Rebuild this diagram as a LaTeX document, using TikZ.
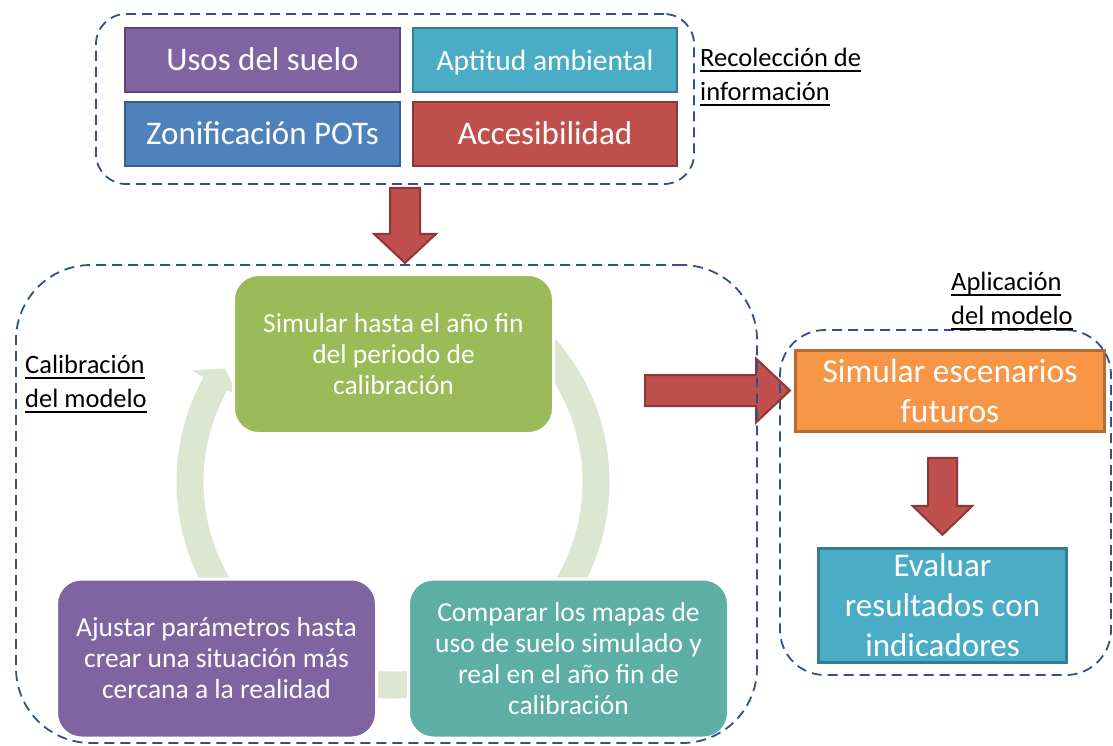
\documentclass[tikz,border=0pt]{standalone}
\usepackage{fontspec}
\setmainfont{Carlito}
\usetikzlibrary{calc,backgrounds}

\newsavebox{\undrbox}
\newcommand{\undr}[1]{\sbox{\undrbox}{#1}\rlap{\usebox{\undrbox}}\rule[-5pt]{\wd\undrbox}{1.8pt}}

\definecolor{usospurple}{HTML}{8064A2}
\definecolor{usosborder}{HTML}{5C4776}
\definecolor{aptblue}{HTML}{4BACC6}
\definecolor{aptborder}{HTML}{357D91}
\definecolor{zonblue}{HTML}{4F81BD}
\definecolor{zonborder}{HTML}{385D8A}
\definecolor{accred}{HTML}{C0504D}
\definecolor{accborder}{HTML}{8C3836}
\definecolor{simgreen}{HTML}{9BBB59}
\definecolor{compteal}{RGB}{93,174,165}
\definecolor{escorange}{HTML}{F79646}
\definecolor{escborder}{HTML}{B66D31}
\definecolor{ringgreen}{RGB}{221,230,209}
\definecolor{frameblue}{RGB}{47,82,143}

\begin{document}
\begin{tikzpicture}[x=1pt,y=-1pt,
    tile/.style={draw, line width=2.5pt, text=white, minimum width=264pt, minimum height=64pt,
      text height=21pt, text depth=0pt, font=\fontsize{33}{36}\selectfont},
    cyc/.style={draw=white, line width=3pt, rounded corners=25pt, text=white, align=center,
      minimum width=320pt, minimum height=159pt, font=\fontsize{27.5}{31}\selectfont},
    stepbox/.style={draw, line width=2.5pt, text=white, align=center,
      font=\fontsize{33.5}{39.5}\selectfont},
    dashframe/.style={draw=frameblue, line width=1.8pt, dash pattern=on 10pt off 6pt, rounded corners=#1},
    labeltxt/.style={anchor=west, inner sep=0pt, align=left, font=\fontsize{26.5}{34}\selectfont},
    blockarrow/.style={fill=accred, draw=accborder, line width=2pt, line join=miter},
    ring/.style={draw=ringgreen, line width=27pt}]
  \useasboundingbox (0,0) rectangle (1113,745);

  \node[tile, fill=usospurple, draw=usosborder, minimum width=275pt] (usos) at (262.5,60) {Usos del suelo};
  \node[tile, fill=aptblue, draw=aptborder, font=\fontsize{29.5}{33}\selectfont] (apt) at (545,60) {Aptitud ambiental};
  \node[tile, fill=zonblue, draw=zonborder, minimum width=275pt] (zon) at (262.5,134) {Zonificación POTs};
  \node[tile, fill=accred, draw=accborder] (acc) at (545,134) {Accesibilidad};

  \coordinate (hub) at (393,482);
  \draw[ring] ([shift={(50:203pt)}]hub) arc[start angle=50, end angle=-62, radius=203pt];
  \draw[ring] ([shift={(-72:203pt)}]hub) arc[start angle=-72, end angle=-108, radius=203pt];
  \draw[ring] ([shift={(220:203pt)}]hub) arc[start angle=220, end angle=151, radius=203pt];
  \fill[ringgreen] ([shift={(151:230pt)}]hub) -- ([shift={(146:203pt)}]hub) -- ([shift={(151:176pt)}]hub) -- cycle;

  \node[cyc, fill=simgreen] (sim) at (393.5,354) {Simular hasta el año fin\\del periodo de\\calibración};
  \node[cyc, fill=usospurple] (adj) at (216.5,658.5) {Ajustar parámetros hasta\\crear una situación más\\cercana a la realidad};
  \node[cyc, fill=compteal] (comp) at (568.5,658.5) {Comparar los mapas de\\uso de suelo simulado y\\real en el año fin de\\calibración};

  \node[stepbox, fill=escorange, draw=escborder, minimum width=309pt, minimum height=81pt] (esc) at (950,391) {Simular escenarios\\futuros};
  \node[stepbox, fill=aptblue, draw=aptborder, minimum width=248pt, minimum height=114pt,
    font=\fontsize{33}{40}\selectfont] (eval) at (942.5,605.5) {Evaluar\\resultados con\\indicadores};

  \node[dashframe=30pt, minimum width=598pt, minimum height=170pt] (recolframe) at (395,99) {};
  \node[dashframe=75pt, minimum width=741pt, minimum height=478pt] (calibframe) at (386.5,504) {};
  \node[dashframe=45pt, minimum width=331pt, minimum height=345pt] (aplicframe) at (945.5,502.5) {};

  \node[labeltxt] (recol) at (700,77) {\undr{Recolección de}\\\undr{información}};
  \node[labeltxt] (calib) at (25,384) {\undr{Calibración}\\\undr{del modelo}};
  \node[labeltxt] (aplic) at (951,301) {\undr{Aplicación}\\\undr{del modelo}};

  \begin{pgfonlayer}{background}
    \draw[blockarrow, shift={($(recolframe.south)+(10,3)$)}]
      (-15,0) -- (15,0) -- (15,46) -- (31,46) -- (0,75) -- (-31,46) -- (-15,46) -- cycle;
    \draw[blockarrow, shift={($(sim.east)+(90,36.5)$)}]
      (0,-15.5) -- (111,-15.5) -- (111,-32) -- (145,0) -- (111,32) -- (111,15.5) -- (0,15.5) -- cycle;
    \draw[blockarrow, shift={($(esc.south -| eval.north)+(0,25)$)}]
      (-14.5,0) -- (14.5,0) -- (14.5,48) -- (30,48) -- (0,77) -- (-30,48) -- (-14.5,48) -- cycle;
  \end{pgfonlayer}
\end{tikzpicture}
\end{document}
